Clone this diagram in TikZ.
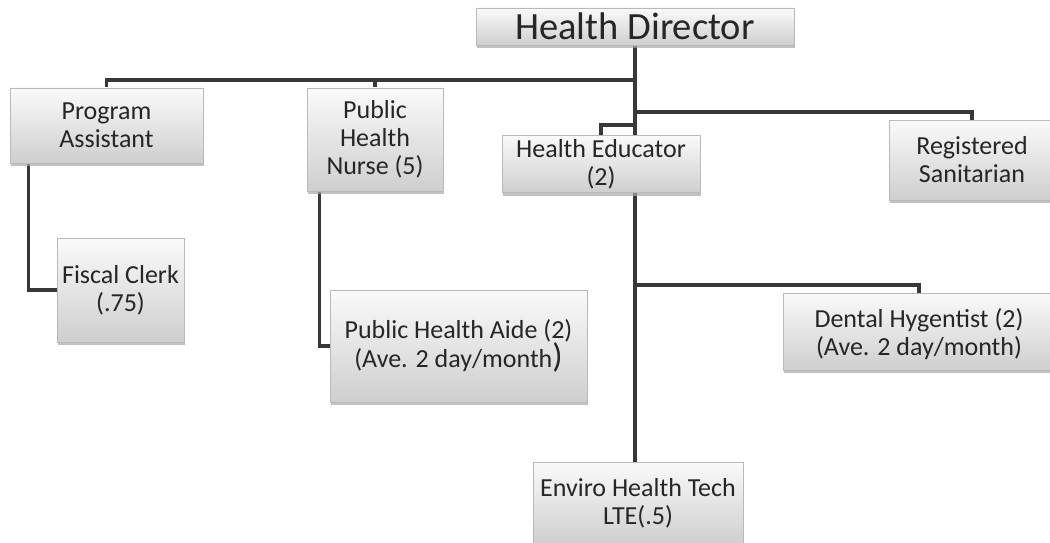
\documentclass[tikz,border=0pt]{standalone}
\usepackage{fontspec}
\setmainfont{Carlito}
\usepackage{tikz}
\usetikzlibrary{calc,shadows,backgrounds}

\tikzset{
  rolebox/.style={rectangle, draw=gray!55, line width=0.6pt, top color=gray!4, bottom color=gray!38,
    drop shadow={shadow xshift=1pt, shadow yshift=-3pt, fill=gray!70, opacity=0.7},
    align=center, inner sep=0pt, text=black!85, font=\fontsize{26}{28}\selectfont},
  link/.style={line width=3.5pt, draw=black!78},
}

\begin{document}
\begin{tikzpicture}[x=1pt,y=-1pt]
  \useasboundingbox (0,0) rectangle (1050,543);
  \node[rolebox, minimum width=318pt, minimum height=37pt, font=\fontsize{38.5}{38.5}\selectfont] (dir) at (635,26.5) {Health Director};
  \node[rolebox, minimum width=193pt, minimum height=75pt] (pa) at (106.5,125.5) {Program\\Assistant};
  \node[rolebox, minimum width=136pt, minimum height=103pt] (phn) at (375,139.5) {Public\\Health\\Nurse (5)};
  \node[rolebox, minimum width=198pt, minimum height=57pt] (he) at (601,164) {Health Educator\\(2)};
  \node[rolebox, minimum width=166pt, minimum height=80pt] (rs) at (972,160) {Registered\\Sanitarian};
  \node[rolebox, minimum width=127pt, minimum height=104pt] (fc) at (120.5,290) {Fiscal Clerk\\(.75)};
  \node[rolebox, minimum width=257pt, minimum height=112pt] (pha) at (458.5,346)
    {Public Health Aide (2)\\(Ave. 2 day/month{\fontsize{34}{28}\selectfont)}};
  \node[rolebox, minimum width=272pt, minimum height=77pt] (dh) at (919,331.5)
    {\mbox{}\\[-4pt]Dental Hygentist (2)\\(Ave. 2 day/month)};
  \node[rolebox, minimum width=210pt, minimum height=83pt] (eht) at (638,503.5) {Enviro Health Tech\\LTE(.5)};

  \begin{scope}[on background layer]
    \draw[link] (dir.south) -- (dir.south |- he.north); % trunk
    \draw[link] (dir.south |- 0,80) -| (pa.north);
    \draw[link] (phn.north) -- (phn.north |- 0,80);
    \draw[link] (dir.south |- 0,112) -| (rs.north);
    \draw[link] (dir.south |- 0,125) -| (he.north);
    \draw[link] (he.south -| dir.south) -- (eht.north -| dir.south);
    \draw[link] (dir.south |- 0,285) -| (dh.north);
    \draw[link] ([xshift=19pt]pa.south west) |- (fc.west); % to fiscal clerk
    \draw[link] ([xshift=13pt]phn.south west) |- (pha.west); % to aide
  \end{scope}
\end{tikzpicture}
\end{document}
